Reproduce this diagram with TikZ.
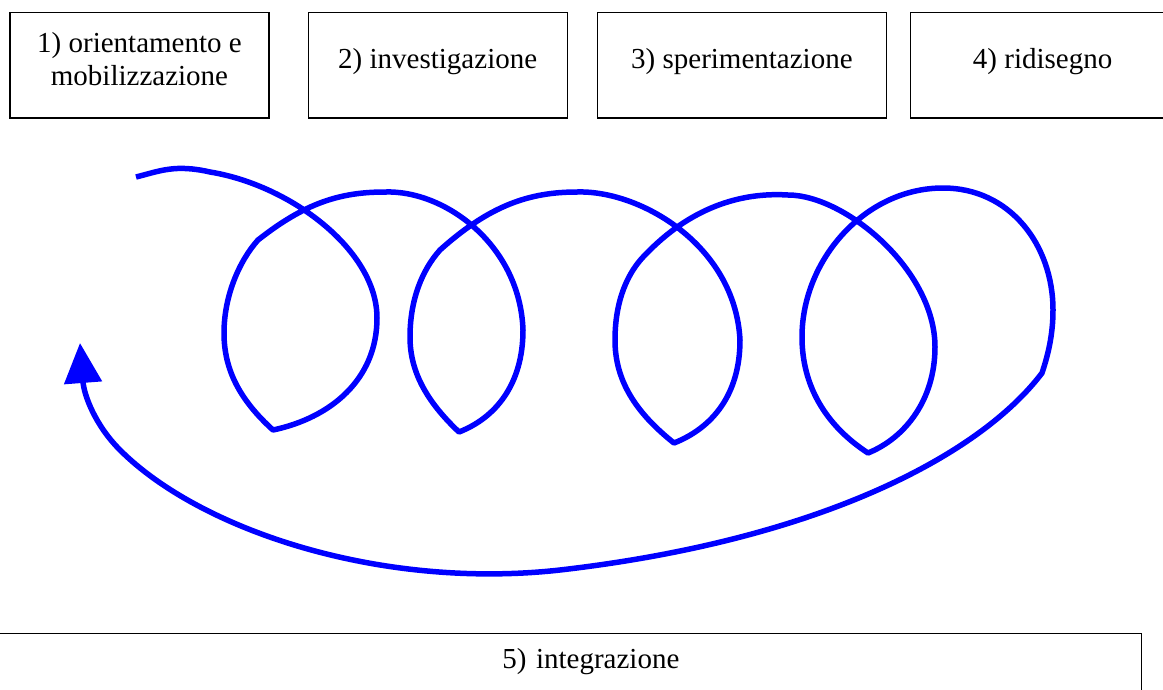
\documentclass[tikz,border=0pt]{standalone}
\usepackage{fontspec}
\setmainfont{Liberation Serif}
\usetikzlibrary{arrows.meta,positioning}

\begin{document}
\begin{tikzpicture}[
    x=1pt,y=-1pt,
    box/.style={draw,line width=1.2pt,minimum width=259pt,minimum height=105.5pt,inner sep=0pt,font=\fontsize{29}{33}\selectfont,align=center},
    phase/.style={box,text height=20pt,text depth=14pt},
    coil/.style={draw=blue,line width=5.5pt,line join=round},
    arr/.style={coil,-{Triangle[width=37pt,length=40pt]}}
  ]
  \useasboundingbox (0,0) rectangle (1163,689);

  % the five phases
  \node[box,text height=53pt,text depth=13pt] (orient) at (139.5,65.3) {1) orientamento e\\mobilizzazione};
  \node[phase,right=38pt of orient] (invest) {2) investigazione};
  \node[phase,right=29pt of invest,minimum width=289pt] (sperim) {3) sperimentazione};
  \node[phase,right=23pt of sperim,minimum width=264pt] (ridis) {4) ridisegno};
  \node[phase,anchor=north east,text width=400pt,align=right,inner xsep=462pt,inner ysep=15pt,text depth=60pt] (integr) at (1142,633) {5) integrazione};

  % spiral with the return arrow
  \draw[arr] (136,177) .. controls (160,171) and (175,164) .. (210,172)
    .. controls (290,185) and (377,250) .. (377,318)
    .. controls (377,380) and (330,418) .. (273,430)
    .. controls (240,400) and (224,370) .. (224,333)
    .. controls (224,295) and (240,260) .. (258,240)
    .. controls (305,203) and (340,192) .. (385,192)
    .. controls (445,190) and (520,245) .. (523,330)
    .. controls (523,385) and (495,418) .. (459,432)
    .. controls (425,400) and (410,370) .. (410,337)
    .. controls (410,300) and (422,270) .. (440,250)
    .. controls (490,205) and (530,192) .. (577,192)
    .. controls (640,190) and (735,245) .. (740,340)
    .. controls (740,395) and (712,428) .. (674,443)
    .. controls (635,412) and (615,380) .. (615,340)
    .. controls (615,300) and (628,272) .. (645,255)
    .. controls (690,208) and (740,192) .. (788,195)
    .. controls (845,195) and (935,270) .. (935,347)
    .. controls (935,400) and (905,438) .. (868,453)
    .. controls (825,425) and (802,385) .. (802,337)
    .. controls (802,260) and (865,188) .. (943,188)
    .. controls (1010,188) and (1053,245) .. (1053,310)
    .. controls (1053,335) and (1048,355) .. (1042,373)
    .. controls (980,455) and (820,540) .. (560,570)
    .. controls (380,590) and (200,530) .. (120,450)
    .. controls (95,425) and (84,395) .. (80,343);
\end{tikzpicture}
\end{document}
